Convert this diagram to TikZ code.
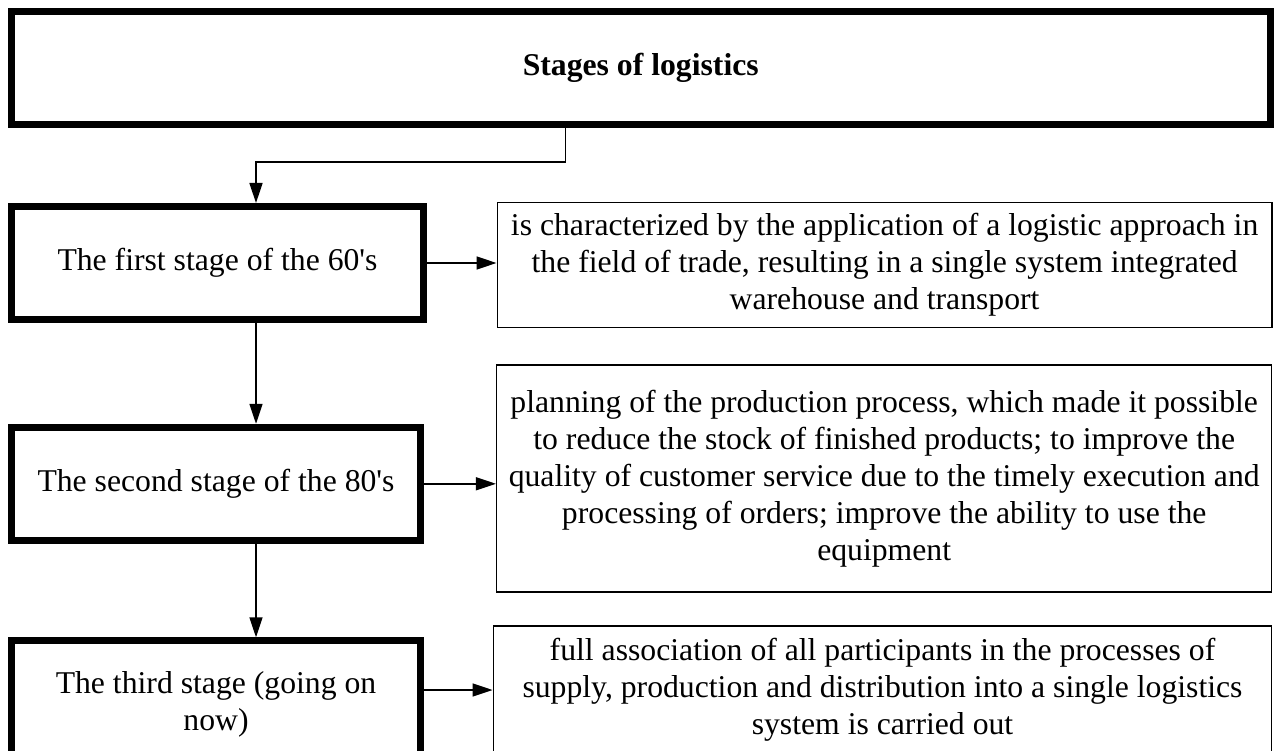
\documentclass[tikz,border=0pt]{standalone}
\usepackage{fontspec}
\setmainfont{Liberation Serif}
\usetikzlibrary{arrows.meta}
\newcommand*{\thk}{7pt}
\newcommand*{\thn}{1.5pt}
\newcommand*{\hgt}{113pt}
\newcommand*{\txt}{\fontsize{31.7}{37}\selectfont}
\tikzset{
	headbox/.style={
		draw,
		line width = \thk,
		minimum width = 1258.5pt,
		minimum height = 113.5pt,
		font = \txt\bfseries,
		},
	stagebox/.style n args={2}{
		draw,
		line width = \thk,
		minimum width = #1,
		minimum height = #2,
		align = center,
		},
	notebox/.style n args={2}{
		draw,
		line width = \thn,
		minimum width = #1,
		minimum height = #2,
		align = center,
		},
	link/.style={
		line width = \thn,
		-{Triangle[length=20pt,width=13pt]},
		}
	}
\begin{document}
\begin{tikzpicture}[x=1pt, y=-1pt, font=\txt]
	\useasboundingbox (0,0) rectangle (1274,751);
	\clip (0,0) rectangle (1274,751);
	% title
	\node (head) [headbox] at (640.75,68.25) {Stages of logistics};
	% stages on the left
	\node (st1) [stagebox={412pt}{\hgt}] at (217.5,263) {The first stage of the 60\textquotesingle s};
	\node (st2) [stagebox={409pt}{\hgt}] at (216,483.8) {The second stage of the 80\textquotesingle s};
	\node (st3) [stagebox={409pt}{127pt}] at (216,704.3) {The third stage (going on\\now)};
	% notes on the right
	\node (nt1) [notebox={774.7pt}{125pt}] at (884.6,264.8)
		{is characterized by the application of a logistic approach in\\
		 the field of trade, resulting in a single system integrated\\
		 warehouse and transport};
	\node (nt2) [notebox={775pt}{227pt}] at (884.2,478.5)
		{planning of the production process, which made it possible\\
		 to reduce the stock of finished products; to improve the\\
		 quality of customer service due to the timely execution and\\
		 processing of orders; improve the ability to use the\\
		 equipment};
	\node (nt3) [notebox={778.4pt}{128pt}] at (882.5,690)
		{full association of all participants in the processes of\\
		 supply, production and distribution into a single logistics\\
		 system is carried out};
	% connectors
	\coordinate (bend) at (565.7,162);
	\coordinate (spine) at (256,0);
	\draw [link] (bend |- head.south) -- (bend) -| (spine |- st1.north);
	\draw [link] (spine |- st1.south) -- (spine |- st2.north);
	\draw [link] (spine |- st2.south) -- (spine |- st3.north);
	\draw [link] (st1.east) -- (st1.east -| nt1.west);
	\draw [link] (st2.east) -- (st2.east -| nt2.west);
	\draw [link] (st3.east |- nt3.west) -- (nt3.west);
\end{tikzpicture}
\end{document}
